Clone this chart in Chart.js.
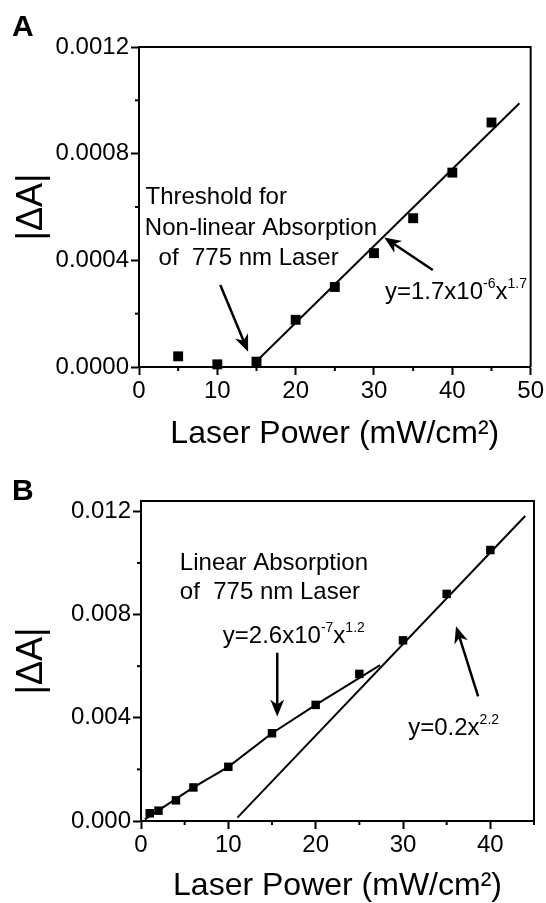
<!DOCTYPE html>
<html>
<head>
<meta charset="utf-8">
<script src="https://cdn.jsdelivr.net/npm/chart.js@4/dist/chart.umd.min.js"></script>
<style>
  body { margin: 0; background: #fff; }
  canvas { display: block; }
</style>
</head>
<body>
<canvas id="graficA" width="546" height="450"></canvas>
<canvas id="graficB" width="546" height="453"></canvas>
<script>
// Panell A: absorcio no lineal
const potenciaA = [5, 10, 15, 20, 25, 30, 35, 40, 45];
const deltaA = [0.00004, 0.00001, 0.00002, 0.000177, 0.0003, 0.000427, 0.000558, 0.000729, 0.000917];
const ajustA_x = [14.64, 48.57];
const ajustA_y = [0.000011, 0.000989];
const ticksXA = [0, 10, 20, 30, 40, 50];
const menorsXA = [5, 15, 25, 35, 45];
const ticksYA = [0, 0.0004, 0.0008, 0.0012];
const menorsYA = [0.0002, 0.0006, 0.001];

// Panell B: absorcio lineal
const potenciaB = [1, 2, 4, 6, 10, 15, 20, 25, 30, 35, 40];
const deltaB = [0.0003, 0.0004, 0.0008, 0.0013, 0.0021, 0.0034, 0.0045, 0.0057, 0.007, 0.0088, 0.0105];
const ajustB1_x = [0.44, 6, 10, 15, 20, 27.38];
const ajustB1_y = [0.00006, 0.0013, 0.0021, 0.0034, 0.0045, 0.00604];
const ajustB2_x = [11.04, 43.99];
const ajustB2_y = [0.00013, 0.01182];
const ticksXB = [0, 10, 20, 30, 40];
const menorsXB = [5, 15, 25, 35, 45];
const ticksYB = [0, 0.004, 0.008, 0.012];
const menorsYB = [0.002, 0.006, 0.01];

const FONT = '"Liberation Sans", Arial, sans-serif';

// textos i fletxes (en unitats de dades)
const notesA = [
    { parts: ['Threshold for'], x: 0.83, y: 0.000643 },
    { parts: ['Non-linear Absorption'], x: 0.75, y: 0.000526 },
    { parts: ['of  775 nm Laser'], x: 2.5, y: 0.000416 },
    { parts: ['y=1.7x10', '^-6', 'x', '^1.7'], x: 31.4, y: 0.000289 }
];
const fletxesA = [
    { de: [10.38, 0.0003075], a: [13.93, 0.0000575] },
    { de: [37.5, 0.000364], a: [31.3, 0.000486] }
];
const notesB = [
    { parts: ['Linear Absorption'], x: 4.45, y: 0.01007 },
    { parts: ['of  775 nm Laser'], x: 4.45, y: 0.00893 },
    { parts: ['y=2.6x10', '^-7', 'x', '^1.2'], x: 9.37, y: 0.00722 },
    { parts: ['y=0.2x', '^2.2'], x: 30.6, y: 0.00367 }
];
const fletxesB = [
    { de: [15.6, 0.00652], a: [15.6, 0.00405] },
    { de: [38.6, 0.00483], a: [36.07, 0.00755] }
];

function fletxa(ctx, x1, y1, x2, y2) {
    const ang = Math.atan2(y2 - y1, x2 - x1);
    const c = Math.cos(ang), s = Math.sin(ang);
    const L = 17, W = 7;
    const bx = x2 - L * c, by = y2 - L * s;
    ctx.beginPath();
    ctx.moveTo(x1, y1);
    ctx.lineTo(x2 - 10 * c, y2 - 10 * s);
    ctx.lineWidth = 2.5;
    ctx.stroke();
    ctx.beginPath();
    ctx.moveTo(x2, y2);
    ctx.lineTo(bx + W * s, by - W * c);
    ctx.lineTo(x2 - 12 * c, y2 - 12 * s);
    ctx.lineTo(bx - W * s, by + W * c);
    ctx.closePath();
    ctx.fill();
}

function textSup(ctx, parts, x, y, mida) {
    let cx = x;
    for (const p of parts) {
        const sup = p.startsWith('^');
        const t = sup ? p.slice(1) : p;
        ctx.font = (sup ? Math.round(mida * 0.58) : mida) + 'px ' + FONT;
        ctx.fillText(t, cx, sup ? y - mida * 0.45 : y);
        cx += ctx.measureText(t).width;
    }
}

function decoracio(lletra, lletraY, notes, fletxes, menorsX, menorsY) {
    return {
        id: 'decoracio',
        afterDraw(chart) {
            const ctx = chart.ctx;
            const a = chart.chartArea;
            const sx = chart.scales.x, sy = chart.scales.y;
            ctx.save();
            ctx.strokeStyle = '#000';
            ctx.fillStyle = '#000';
            // marc de dalt i dreta
            ctx.lineWidth = 2;
            ctx.beginPath();
            ctx.moveTo(a.left, a.top);
            ctx.lineTo(a.right, a.top);
            ctx.lineTo(a.right, a.bottom);
            ctx.stroke();
            // ticks menors
            menorsX.forEach(v => {
                const px = sx.getPixelForValue(v);
                ctx.beginPath(); ctx.moveTo(px, a.bottom); ctx.lineTo(px, a.bottom + 4); ctx.stroke();
            });
            menorsY.forEach(v => {
                const py = sy.getPixelForValue(v);
                ctx.beginPath(); ctx.moveTo(a.left, py); ctx.lineTo(a.left - 4, py); ctx.stroke();
            });
            // lletra del panell
            ctx.font = 'bold 30px ' + FONT;
            ctx.textBaseline = 'alphabetic';
            ctx.fillText(lletra, 12, lletraY);
            // textos
            notes.forEach(n => {
                textSup(ctx, n.parts, sx.getPixelForValue(n.x), sy.getPixelForValue(n.y) + 8.6, 24);
            });
            // fletxes
            fletxes.forEach(f => {
                fletxa(ctx, sx.getPixelForValue(f.de[0]), sy.getPixelForValue(f.de[1]),
                    sx.getPixelForValue(f.a[0]), sy.getPixelForValue(f.a[1]));
            });
            ctx.restore();
        }
    };
}

function crearGrafic(canva, cfg) {
    new Chart(canva, {
        type: 'scatter',
        data: { datasets: cfg.datasets },
        options: {
            responsive: false,
            animation: false,
            layout: { padding: { left: 0, right: cfg.dreta, top: cfg.dalt, bottom: 0 } },
            plugins: { legend: { display: false }, tooltip: { enabled: false } },
            scales: {
                x: {
                    type: 'linear', min: 0, max: cfg.xMax,
                    afterFit: s => { s.height = cfg.altX; },
                    afterBuildTicks: s => { s.ticks = cfg.ticksX.map(v => ({ value: v })); },
                    grid: { drawOnChartArea: false, drawTicks: true, tickLength: 8, tickWidth: 2, tickColor: '#000' },
                    border: { color: '#000', width: 2 },
                    ticks: { color: '#000', font: { family: FONT, size: 24 }, padding: 2, maxRotation: 0, autoSkip: false,
                        callback: v => String(v) },
                    title: { display: true, text: 'Laser Power (mW/cm²)', color: '#000',
                        font: { family: FONT, size: 32, lineHeight: 1 }, padding: { top: 0, bottom: cfg.titolBaix } }
                },
                y: {
                    type: 'linear', min: 0, max: cfg.yMax,
                    afterFit: s => { s.width = cfg.ampleY; },
                    afterBuildTicks: s => { s.ticks = cfg.ticksY.map(v => ({ value: v })); },
                    grid: { drawOnChartArea: false, drawTicks: true, tickLength: 8, tickWidth: 2, tickColor: '#000' },
                    border: { color: '#000', width: 2 },
                    ticks: { color: '#000', font: { family: FONT, size: 24 }, padding: 2, autoSkip: false,
                        callback: v => v.toFixed(cfg.decimals) },
                    title: { display: true, text: '|ΔA|', color: '#000',
                        font: { family: FONT, size: 36, lineHeight: 1 }, padding: { top: 14, bottom: 0 } }
                }
            }
        },
        plugins: [decoracio(cfg.lletra, cfg.lletraY, cfg.notes, cfg.fletxes, cfg.menorsX, cfg.menorsY)]
    });
}

function punts(xs, ys, r) {
    return {
        data: xs.map((x, i) => ({ x: x, y: ys[i] })),
        pointStyle: 'rect', pointRadius: r, pointBackgroundColor: '#000', pointBorderColor: '#000',
        pointBorderWidth: 0, showLine: false, clip: false, order: 0
    };
}
function recta(xs, ys) {
    return {
        data: xs.map((x, i) => ({ x: x, y: ys[i] })),
        showLine: true, borderColor: '#000', borderWidth: 2, pointRadius: 0, order: 1
    };
}

crearGrafic(document.getElementById('graficA'), {
    datasets: [recta(ajustA_x, ajustA_y), punts(potenciaA, deltaA, 7)],
    xMax: 50, yMax: 0.0012, decimals: 4,
    ticksX: ticksXA, ticksY: ticksYA, menorsX: menorsXA, menorsY: menorsYA,
    dreta: 14, dalt: 47, altX: 83, ampleY: 139, titolBaix: 0,
    lletra: 'A', lletraY: 36, notes: notesA, fletxes: fletxesA
});

crearGrafic(document.getElementById('graficB'), {
    datasets: [recta(ajustB1_x, ajustB1_y), recta(ajustB2_x, ajustB2_y), punts(potenciaB, deltaB, 6)],
    xMax: 45, yMax: 0.0124, decimals: 3,
    ticksX: ticksXB, ticksY: ticksYB, menorsX: menorsXB, menorsY: menorsYB,
    dreta: 12, dalt: 51, altX: 82, ampleY: 141, titolBaix: 1,
    lletra: 'B', lletraY: 50, notes: notesB, fletxes: fletxesB
});
</script>
</body>
</html>
